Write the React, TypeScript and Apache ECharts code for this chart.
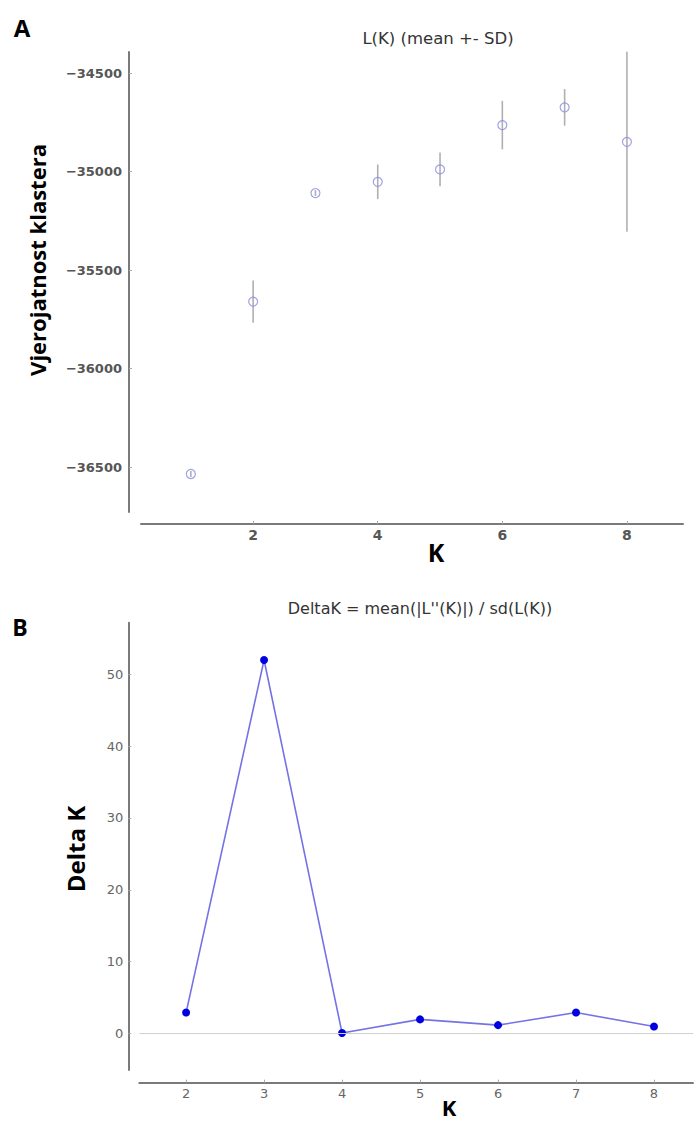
import React, { useEffect, useRef } from "react";
import * as echarts from "echarts";

// Panel A: L(K) mean +- SD
const kA = [1, 2, 3, 4, 5, 6, 7, 8];
const meanLK = [-36535, -35660, -35109, -35052, -34989, -34764, -34674, -34849];
const sdLK = [15, 107, 15, 88, 86, 123, 93, 457];
const xTicksA = [2, 4, 6, 8];
const yTicksA = [-36500, -36000, -35500, -35000, -34500];

// Panel B: Delta K
const kB = [2, 3, 4, 5, 6, 7, 8];
const deltaK = [2.9, 52.0, 0.05, 1.95, 1.15, 2.9, 0.95];
const xTicksB = [2, 3, 4, 5, 6, 7, 8];
const yTicksB = [0, 10, 20, 30, 40, 50];

const TICK_FONT = "DejaVu Sans";
const BOLD_FONT = "Open Sans";

export default function App() {
  const ref = useRef<HTMLDivElement>(null);

  useEffect(() => {
    if (!ref.current) return;
    const chart = echarts.init(ref.current, null, { renderer: "svg" });

    const axisLine = { show: true, onZero: false, lineStyle: { color: "#7a7a7a", width: 2 } };
    const axisTick = (vals: number[]) => ({
      show: true,
      inside: true,
      length: 3,
      lineStyle: { color: "#aaa", width: 1 },
      customValues: vals,
    });
    const fmtMinus = (v: number) => String(v).replace("-", "\u2212");

    const option: any = {
      animation: false,
      backgroundColor: "#ffffff",
      grid: [
        { left: 141, top: 52, width: 542, height: 460, containLabel: false, outerBoundsMode: "none" },
        { left: 139.3, top: 622.7, width: 553.7, height: 447.3, containLabel: false, outerBoundsMode: "none" },
      ],
      xAxis: [
        {
          gridIndex: 0,
          type: "value",
          min: 0.2,
          max: 8.9,
          offset: 12,
          axisLine,
          axisTick: axisTick(xTicksA),
          splitLine: { show: false },
          axisLabel: {
            customValues: xTicksA,
            color: "#555",
            fontSize: 14,
            fontFamily: TICK_FONT,
            fontWeight: "bold",
            margin: 4,
          },
        },
        {
          gridIndex: 1,
          type: "value",
          min: 1.4,
          max: 8.5,
          offset: 12.7,
          axisLine,
          axisTick: axisTick(xTicksB),
          splitLine: { show: false },
          axisLabel: {
            customValues: xTicksB,
            color: "#666",
            fontSize: 13,
            fontFamily: TICK_FONT,
            margin: 4,
          },
        },
      ],
      yAxis: [
        {
          gridIndex: 0,
          type: "value",
          min: -36728,
          max: -34393,
          offset: 12,
          axisLine,
          axisTick: axisTick(yTicksA),
          splitLine: { show: false },
          axisLabel: {
            customValues: yTicksA,
            formatter: fmtMinus,
            color: "#555",
            fontSize: 13,
            fontFamily: TICK_FONT,
            fontWeight: "bold",
            margin: 7,
          },
        },
        {
          gridIndex: 1,
          type: "value",
          min: -5.1,
          max: 57.2,
          offset: 11,
          axisLine,
          axisTick: axisTick(yTicksB),
          splitLine: { show: false },
          axisLabel: {
            customValues: yTicksB,
            color: "#666",
            fontSize: 13,
            fontFamily: TICK_FONT,
            margin: 5,
          },
        },
      ],
      series: [
        {
          type: "custom",
          xAxisIndex: 0,
          yAxisIndex: 0,
          silent: true,
          data: kA.map((k, i) => [k, meanLK[i] - sdLK[i], meanLK[i] + sdLK[i]]),
          encode: { x: 0, y: [1, 2] },
          renderItem: (_params: any, api: any) => {
            const x = api.value(0);
            const p1 = api.coord([x, api.value(1)]);
            const p2 = api.coord([x, api.value(2)]);
            return {
              type: "line",
              shape: { x1: p1[0], y1: p1[1], x2: p2[0], y2: p2[1] },
              style: { stroke: "#b0b0b0", lineWidth: 1.6 },
            };
          },
        },
        {
          type: "scatter",
          xAxisIndex: 0,
          yAxisIndex: 0,
          symbol: "circle",
          symbolSize: 9,
          silent: true,
          data: kA.map((k, i) => [k, meanLK[i]]),
          itemStyle: { color: "rgba(255,255,255,0)", borderColor: "#8a8ae0", borderWidth: 1.2 },
        },
        {
          type: "line",
          xAxisIndex: 1,
          yAxisIndex: 1,
          symbol: "circle",
          symbolSize: 8,
          silent: true,
          data: kB.map((k, i) => [k, deltaK[i]]),
          lineStyle: { color: "#7373e6", width: 1.6 },
          itemStyle: { color: "#0000e0" },
          markLine: {
            silent: true,
            symbol: ["none", "none"],
            label: { show: false },
            lineStyle: { color: "#d0d0d0", width: 1, type: "solid" },
            data: [{ yAxis: 0 }],
          },
          z: 3,
        },
      ],
      graphic: [
        {
          type: "text",
          x: 22,
          y: 27,
          style: { text: "A", font: `bold 24px "${BOLD_FONT}"`, fill: "#000", align: "center", verticalAlign: "middle" },
        },
        {
          type: "text",
          x: 20,
          y: 627,
          style: { text: "B", font: `bold 23px "${BOLD_FONT}"`, fill: "#000", align: "center", verticalAlign: "middle" },
        },
        {
          type: "text",
          x: 438,
          y: 38,
          style: {
            text: "L(K) (mean +- SD)",
            font: `16.5px "${TICK_FONT}"`,
            fill: "#333",
            align: "center",
            verticalAlign: "middle",
          },
        },
        {
          type: "text",
          x: 420,
          y: 608,
          style: {
            text: "DeltaK = mean(|L''(K)|) / sd(L(K))",
            font: `16px "${TICK_FONT}"`,
            fill: "#333",
            align: "center",
            verticalAlign: "middle",
          },
        },
        {
          type: "text",
          x: 37,
          y: 260,
          rotation: Math.PI / 2,
          style: {
            text: "Vjerojatnost klastera",
            font: `bold 22px "${BOLD_FONT}"`,
            fill: "#000",
            align: "center",
            verticalAlign: "middle",
          },
        },
        {
          type: "text",
          x: 436,
          y: 552,
          style: { text: "K", font: `bold 25px "${BOLD_FONT}"`, fill: "#000", align: "center", verticalAlign: "middle" },
        },
        {
          type: "text",
          x: 75,
          y: 849,
          rotation: Math.PI / 2,
          style: {
            text: "Delta K",
            font: `bold 24px "${BOLD_FONT}"`,
            fill: "#000",
            align: "center",
            verticalAlign: "middle",
          },
        },
        {
          type: "text",
          x: 449,
          y: 1107,
          style: { text: "K", font: `bold 22px "${BOLD_FONT}"`, fill: "#000", align: "center", verticalAlign: "middle" },
        },
      ],
    };

    chart.setOption(option);
    return () => chart.dispose();
  }, []);

  return (
    <div
      ref={ref}
      style={{ position: "fixed", left: 0, top: 0, width: 696, height: 1122, background: "#fff" }}
    />
  );
}
